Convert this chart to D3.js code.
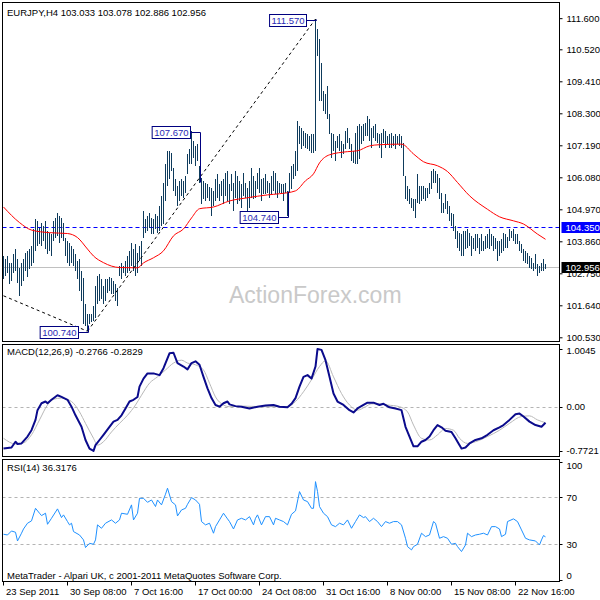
<!DOCTYPE html>
<html><head><meta charset="utf-8">
<script src="https://cdn.jsdelivr.net/npm/d3@7"></script>
<style>
body{margin:0;background:#fff}
svg{display:block}
text{font-family:"Liberation Sans",Arial,sans-serif;font-size:9.5px;fill:#000}
</style>
</head><body>
<svg id="c" width="600" height="600"></svg>
<script>
// ---------- DATA ----------
const symbolTitle = "EURJPY,H4  103.033 103.078 102.886 102.956";
const highs = [103.36,103.25,103.36,103.11,103.11,103.43,103.60,103.25,102.94,103.11,
103.25,103.46,103.53,103.60,103.70,104.29,104.64,104.57,104.33,104.50,
104.40,104.57,104.22,104.15,104.12,104.57,104.67,104.85,104.74,104.67,
104.50,103.98,103.88,103.81,103.70,103.60,103.43,103.18,103.25,102.84,
102.59,101.69,101.35,101.35,101.35,101.62,102.32,102.66,102.73,102.56,
102.32,102.56,102.56,102.63,102.59,102.49,102.38,102.24,103.01,103.11,
103.01,103.18,103.36,103.53,103.81,103.60,103.77,103.46,103.70,103.88,
104.92,104.64,104.74,104.85,104.67,104.64,104.81,104.74,105.09,105.44,
105.89,106.55,107.00,107.00,106.93,106.41,106.03,105.78,105.96,106.03,
105.96,106.13,106.89,107.07,107.67,107.34,107.17,107.24,106.48,106.06,
105.96,105.89,105.85,105.75,105.71,105.61,106.03,106.20,105.85,105.96,
106.03,106.24,106.30,105.85,106.20,105.89,106.30,106.13,105.96,105.85,
106.24,105.89,105.71,105.96,106.41,106.13,105.96,106.24,106.41,106.03,
106.06,106.20,105.96,105.89,106.13,106.30,106.24,105.96,105.89,105.85,
105.85,105.89,105.61,106.24,106.48,106.55,107.00,108.04,107.86,107.79,
107.69,107.62,107.59,107.52,107.59,107.59,111.57,111.23,110.88,110.05,
109.08,108.97,109.25,108.28,107.62,107.59,107.34,107.52,107.59,107.34,
107.24,107.69,107.79,107.45,107.24,107.00,107.62,107.86,107.93,107.86,
107.93,107.97,108.21,108.11,107.79,107.86,107.93,107.62,107.59,107.62,
107.76,107.69,107.52,107.59,107.62,107.52,107.59,107.52,107.59,107.52,
107.27,106.13,105.78,105.68,105.37,105.33,105.33,106.20,105.78,105.78,
105.78,105.71,105.71,105.89,106.30,106.37,106.30,106.20,106.06,105.54,
105.19,105.51,105.26,105.09,104.85,104.81,104.40,104.22,104.15,104.12,
104.22,104.22,104.29,104.15,104.05,103.98,104.12,104.12,103.98,104.12,
103.88,104.05,104.12,104.29,104.12,104.05,103.98,103.88,103.88,103.94,
104.15,104.12,104.01,104.29,104.22,104.29,104.12,104.12,103.88,103.77,
103.60,103.53,103.46,103.36,103.29,103.11,103.43,103.08,103.01,103.11,
103.25,103.08];
const lows = [102.56,102.66,102.77,102.38,102.49,102.77,102.84,102.42,101.97,102.32,
102.49,102.84,102.63,102.91,103.01,103.11,103.53,103.70,103.77,103.70,
103.88,103.60,103.43,103.53,103.36,103.88,103.98,104.05,103.81,103.98,
103.88,103.36,103.11,103.01,103.11,103.01,102.84,102.56,102.14,101.80,
101.00,100.93,100.74,101.00,101.07,101.10,101.21,101.69,101.80,101.87,
101.69,101.80,102.07,102.14,102.04,102.04,101.80,101.62,102.66,102.56,
102.77,102.66,102.77,102.84,103.01,102.84,102.66,102.77,103.18,103.01,
103.98,104.15,104.22,104.33,104.12,104.12,104.29,104.15,104.22,104.40,
104.47,105.26,105.78,106.03,106.30,105.61,105.44,105.09,105.26,105.44,
105.37,105.54,106.20,106.55,106.55,106.75,106.48,106.65,105.89,105.16,
105.33,105.26,105.37,105.26,104.74,105.09,105.26,105.37,105.26,105.44,
105.16,105.44,105.26,105.16,105.61,104.92,105.37,105.16,105.26,105.02,
105.44,105.37,104.92,105.02,105.37,105.33,105.37,105.68,105.54,105.26,
105.51,105.51,105.54,105.37,105.51,105.61,105.51,105.37,105.54,105.51,
105.26,105.54,104.74,105.54,105.68,106.03,106.13,106.30,107.24,107.07,
107.17,107.10,107.07,107.00,106.93,106.93,107.00,110.29,108.73,108.73,
108.38,108.28,108.11,107.59,106.75,107.00,106.65,107.10,107.00,106.75,
106.89,107.07,107.27,107.07,106.65,106.58,106.55,106.55,106.72,107.24,
107.34,107.52,107.52,107.34,107.10,107.45,107.34,107.27,107.10,106.75,
107.27,107.10,107.24,107.10,107.10,107.17,107.07,107.24,107.17,107.10,
106.13,105.33,105.26,105.16,105.02,104.92,104.67,105.19,105.16,105.26,
105.33,105.26,105.37,105.51,105.68,105.89,105.89,105.54,105.33,104.85,
104.85,104.99,104.81,104.57,104.40,104.22,103.94,103.63,103.53,103.36,
103.36,103.60,103.63,103.70,103.36,103.60,103.53,103.63,103.43,103.53,
103.53,103.60,103.63,103.60,103.70,103.53,103.60,103.18,103.36,103.46,
103.53,103.63,103.63,103.88,103.98,103.88,103.77,103.77,103.53,103.46,
103.18,103.11,103.08,102.94,102.91,102.84,102.91,102.66,102.77,102.84,
102.84,102.89];

const maIdx = [0,8,14,23,32,37,42,45,50,58,67,70,75,80,85,90,94,98,105,113,122,132,138,146,151,155,158,163,172,177,183,188,199,205,210,217,222,227,233,242,248,255,260,267,271];
const maVal = [105.05,104.51,104.25,104.16,104.13,103.99,103.59,103.35,103.12,102.95,102.94,103.11,103.29,103.53,104.05,104.29,104.67,104.99,105.05,105.26,105.37,105.47,105.51,105.61,105.96,106.20,106.58,106.86,106.97,107.00,107.17,107.21,107.23,106.89,106.62,106.48,106.28,105.90,105.44,104.97,104.71,104.57,104.46,104.11,103.93];

const macdIdx = [0,4,6,7,9,12,14,16,17,19,21,22,24,27,29,32,34,36,39,41,43,45,46,48,50,53,55,57,59,61,63,65,67,68,70,72,75,78,80,83,85,87,90,92,94,96,98,100,102,104,106,108,110,112,113,116,119,123,127,131,135,138,142,144,146,148,150,152,154,156,157,159,161,163,165,167,170,173,175,177,180,182,185,188,190,193,196,199,201,203,205,207,209,211,213,215,217,219,221,224,226,227,229,231,233,236,239,242,245,248,250,253,256,258,260,263,266,269,271];
const macdVal = [-0.73,-0.71,-0.61,-0.65,-0.64,-0.52,-0.41,-0.23,-0.06,0.06,0.09,0.06,0.12,0.20,0.17,0.12,0.00,-0.15,-0.35,-0.58,-0.73,-0.77,-0.67,-0.58,-0.49,-0.35,-0.26,-0.23,-0.15,-0.03,0.09,0.12,0.17,0.35,0.49,0.58,0.58,0.55,0.67,0.93,0.94,0.76,0.70,0.65,0.76,0.79,0.73,0.52,0.32,0.15,0.03,0.00,0.06,0.09,0.04,0.01,0.00,-0.03,0.00,0.02,0.03,0.00,-0.01,0.05,0.15,0.35,0.52,0.55,0.49,0.70,1.0045,0.99,0.81,0.52,0.23,0.09,0.03,-0.06,-0.10,-0.03,0.03,0.07,0.07,0.03,0.05,-0.01,-0.03,-0.06,-0.35,-0.52,-0.69,-0.69,-0.61,-0.58,-0.52,-0.41,-0.32,-0.36,-0.42,-0.44,-0.55,-0.61,-0.73,-0.71,-0.64,-0.58,-0.55,-0.49,-0.41,-0.36,-0.32,-0.23,-0.13,-0.12,-0.17,-0.26,-0.32,-0.35,-0.28];

const sigIdx = [0,6,10,14,18,22,25,29,34,38,41,45,47,50,54,58,62,66,69,73,77,81,85,89,92,96,100,103,106,110,113,120,130,142,146,150,154,158,161,165,169,173,177,181,184,188,192,198,202,205,209,213,217,221,225,228,232,236,242,248,253,259,263,267,271];
const sigVal = [-0.55,-0.65,-0.63,-0.49,-0.23,0.03,0.13,0.15,0.09,-0.09,-0.29,-0.55,-0.67,-0.61,-0.44,-0.29,-0.15,0.03,0.20,0.41,0.52,0.64,0.76,0.81,0.76,0.73,0.64,0.41,0.17,0.03,0.00,0.01,0.00,0.00,0.09,0.26,0.47,0.70,0.80,0.52,0.23,0.03,-0.06,0.00,0.05,0.05,0.03,0.00,-0.09,-0.32,-0.55,-0.58,-0.49,-0.38,-0.41,-0.55,-0.64,-0.61,-0.52,-0.41,-0.29,-0.17,-0.16,-0.23,-0.28];

const rsiIdx = [0,2,4,6,7,9,10,12,14,16,18,19,21,22,24,27,29,30,32,33,34,35,38,40,41,43,45,46,47,49,51,54,56,58,59,62,64,65,67,68,70,72,74,76,77,79,81,82,84,86,87,89,91,92,94,96,98,99,101,103,105,106,108,110,112,113,115,117,119,121,123,125,126,127,129,131,133,135,136,138,140,142,144,146,148,150,152,154,155,156,157,158,160,162,164,166,168,170,172,174,176,178,180,181,183,185,187,189,191,193,195,197,199,201,202,204,205,207,209,211,213,215,216,218,220,222,224,226,227,229,231,232,234,236,238,240,242,244,246,248,249,251,252,255,257,259,261,263,266,268,269,270,271];
const rsiVal = [38.5,37.9,41.3,40.2,32.8,39.4,43.0,47.9,49.9,60.6,56.4,54.4,56.4,47.0,52.1,60.1,52.7,55.0,49.3,46.5,47.9,40.8,37.9,33.7,27.2,30.8,30.0,33.7,46.5,43.6,47.9,50.7,47.9,50.7,56.4,55.5,63.5,50.7,56.4,69.1,69.1,65.7,67.7,62.1,67.7,63.5,72.6,77.7,66.3,63.5,54.1,59.2,60.6,64.0,69.7,67.7,64.0,49.3,46.5,47.9,39.4,45.0,50.7,56.4,51.6,49.3,43.0,50.7,52.1,50.7,53.5,46.5,52.1,55.0,46.5,53.5,53.5,46.5,52.1,50.7,49.3,46.5,55.5,58.4,74.8,67.7,66.3,60.6,60.6,83.3,75.0,62.1,56.4,53.5,46.5,45.0,47.9,46.5,50.7,43.6,49.3,55.0,52.7,53.5,49.3,52.1,49.3,45.0,49.3,47.9,49.3,49.3,46.5,35.1,28.0,25.2,28.0,30.0,39.4,36.5,37.9,49.3,47.9,35.1,36.5,35.1,30.0,30.8,28.0,23.8,29.4,39.4,36.5,37.9,38.5,39.4,37.9,45.0,45.0,43.0,36.5,38.5,49.3,51.6,49.3,42.2,35.1,33.7,32.8,29.4,33.7,37.4,36.3];

const priceTicks = [111.6,110.52,109.41,108.3,107.19,106.08,104.97,103.86,102.75,101.64,100.53];
const dateIdx = [0,32,64,96,128,160,192,224,256];
const dateLabels = ["23 Sep 2011","30 Sep 08:00","7 Oct 16:00","17 Oct 00:00","24 Oct 08:00","31 Oct 16:00","8 Nov 00:00","15 Nov 08:00","22 Nov 16:00"];
const macdTicks = [1.0045,0,-0.7721];
const macdTickLabels = ["1.0045","0.00","-0.7721"];
const rsiTicks = [100,70,30,0];
const rsiLevels = [70,30];
const resistanceLevel = 104.35;
const bidLevel = 102.956;
const pivotIdx = [42,98,142,156];
const pivotPrice = [100.74,107.67,104.74,111.57];
const pivotEnd = [100.95,105.90,105.60,111.57];
const pivotLabel = ["100.740","107.670","104.740","111.570"];
const trendFrom = [[0,101.97],[42,100.74]];
const trendTo = [[42,100.74],[156,111.57]];
const macdTitle = "MACD(12,26,9) -0.2766 -0.2829";
const rsiTitle = "RSI(14) 36.3176";
const copyright = "MetaTrader - Alpari UK, c 2001-2011 MetaQuotes Software Corp.";
const watermark = "ActionForex.com";

// ---------- LAYOUT ----------
const svg = d3.select("#c");
const L = 2.5, R = 559.5;
const panels = {main:[2.5,341.5], macd:[344.5,456.5], rsi:[459.5,581.5]};
const x = d3.scaleLinear().domain([0,271]).range([3.5,545.5]);
const yP = d3.scaleLinear().domain([100.402,112.126]).range([341,3]);
const yM = d3.scaleLinear().domain([-0.8676,1.0836]).range([456.5,344.5]);
const yR = d3.scaleLinear().domain([-1.70,102.13]).range([581.5,459.5]);

const defs = svg.append("defs");
Object.entries(panels).forEach(([k,[t,b]])=>{
  defs.append("clipPath").attr("id","clip-"+k).append("rect")
    .attr("x",L).attr("y",t).attr("width",R-L).attr("height",b-t);
});

// ---------- MAIN PANEL ----------
const gMain = svg.append("g").attr("clip-path","url(#clip-main)");
gMain.append("text").attr("x",229).attr("y",303).text(watermark)
  .style("font-size","23px").style("fill","#c9c9c9");
gMain.append("line").attr("x1",L).attr("x2",R)
  .attr("y1",Math.round(yP(bidLevel))+0.5).attr("y2",Math.round(yP(bidLevel))+0.5)
  .attr("stroke","#c0c0c0").attr("stroke-width",1);
gMain.append("line").attr("x1",L).attr("x2",R)
  .attr("y1",Math.round(yP(resistanceLevel))+0.5).attr("y2",Math.round(yP(resistanceLevel))+0.5)
  .attr("stroke","#0000ff").attr("stroke-width",1).attr("stroke-dasharray","4,3");

// bars
gMain.append("g").selectAll("line").data(highs).join("line")
  .attr("x1",(d,i)=>x(i)).attr("x2",(d,i)=>x(i))
  .attr("y1",d=>yP(d)).attr("y2",(d,i)=>yP(lows[i]))
  .attr("stroke","#0e3b5c").attr("stroke-width",1).attr("shape-rendering","crispEdges");

// moving average
const maLine = d3.line().x(d=>x(d[0])).y(d=>yP(d[1])).curve(d3.curveMonotoneX);
gMain.append("path").datum(maIdx.map((d,i)=>[d,maVal[i]]))
  .attr("d",maLine).attr("fill","none").attr("stroke","#ff0000").attr("stroke-width",1);

// trend lines
trendFrom.forEach((f,k)=>{
  gMain.append("line").attr("x1",x(f[0])).attr("y1",yP(f[1]))
    .attr("x2",x(trendTo[k][0])).attr("y2",yP(trendTo[k][1]))
    .attr("stroke","#000").attr("stroke-width",1).attr("stroke-dasharray","3,3");
});

// pivot labels
pivotIdx.forEach((pi,k)=>{
  const px = Math.round(x(pi))+0.5, py = Math.round(yP(pivotPrice[k]))+1.5;
  const t = gMain.append("text").attr("y",py+3.5).text(pivotLabel[k])
    .style("fill","#2a2ab4");
  const w = t.node().getComputedTextLength();
  const right = px - 10, left = right - w - 4;
  t.attr("x",left+2);
  gMain.insert("rect","text:last-child").attr("x",left).attr("y",py-6).attr("width",w+4).attr("height",12)
    .attr("fill","#fff").attr("stroke","#000080");
  gMain.append("path").attr("d",`M${right},${py}H${px}V${Math.round(yP(pivotEnd[k]))+0.5}`)
    .attr("fill","none").attr("stroke","#000080");
});
// redraw texts above boxes
gMain.selectAll("text").raise();

svg.append("text").attr("x",7).attr("y",16).text(symbolTitle);

// ---------- MACD PANEL ----------
const gM = svg.append("g").attr("clip-path","url(#clip-macd)");
gM.append("line").attr("x1",L).attr("x2",R).attr("y1",Math.round(yM(0))+0.5).attr("y2",Math.round(yM(0))+0.5)
  .attr("stroke","#b4b4b4").attr("stroke-dasharray","3,3");
const lM = d3.line().x(d=>x(d[0])).y(d=>yM(d[1]));
gM.append("path").datum(sigIdx.map((d,i)=>[d,sigVal[i]])).attr("d",lM.curve(d3.curveMonotoneX))
  .attr("fill","none").attr("stroke","#b8b8b8").attr("stroke-width",1);
gM.append("path").datum(macdIdx.map((d,i)=>[d,macdVal[i]])).attr("d",lM.curve(d3.curveLinear))
  .attr("fill","none").attr("stroke","#0b0b8c").attr("stroke-width",2).attr("stroke-linejoin","round");
svg.append("text").attr("x",7).attr("y",355).text(macdTitle);

// ---------- RSI PANEL ----------
const gR = svg.append("g").attr("clip-path","url(#clip-rsi)");
rsiLevels.forEach(v=>{
  gR.append("line").attr("x1",L).attr("x2",R).attr("y1",Math.round(yR(v))+0.5).attr("y2",Math.round(yR(v))+0.5)
    .attr("stroke","#b4b4b4").attr("stroke-dasharray","3,3");
});
gR.append("path").datum(rsiIdx.map((d,i)=>[d,rsiVal[i]]))
  .attr("d",d3.line().x(d=>x(d[0])).y(d=>yR(d[1])))
  .attr("fill","none").attr("stroke","#1e90ff").attr("stroke-width",1);
svg.append("text").attr("x",7).attr("y",471).text(rsiTitle);
svg.append("text").attr("x",7).attr("y",579).text(copyright);

// ---------- FRAMES ----------
Object.values(panels).forEach(([t,b])=>{
  svg.append("rect").attr("x",L).attr("y",t).attr("width",R-L).attr("height",b-t)
    .attr("fill","none").attr("stroke","#000").attr("stroke-width",1);
});

// ---------- AXES ----------
const axP = svg.append("g").attr("transform",`translate(${R},0)`)
  .call(d3.axisRight(yP).tickValues(priceTicks).tickFormat(d3.format(".3f")).tickSize(3).tickPadding(4));
axP.select(".domain").remove();
axP.selectAll("text").style("font-size","9.5px").style("font-family","Liberation Sans, Arial, sans-serif");

function sideLabel(v, y, txt, bg, fg){
  const g = svg.append("g");
  const t = g.append("text").attr("x",R+6).attr("y",y+3.5).text(txt).style("fill",fg);
  const w = t.node().getComputedTextLength();
  g.insert("rect","text").attr("x",R+2).attr("y",y-5.5).attr("width",600-R-2).attr("height",11).attr("fill",bg);
}
sideLabel(resistanceLevel, Math.round(yP(resistanceLevel))+0.5, resistanceLevel.toFixed(3), "#0000ff", "#fff");
sideLabel(bidLevel, Math.round(yP(bidLevel))+0.5, bidLevel.toFixed(3), "#000", "#fff");

function clampLabels(scale, vals, labels, top, bottom){
  vals.forEach((v,k)=>{
    const yy = scale(v);
    svg.append("line").attr("x1",R).attr("x2",R+3).attr("y1",Math.round(yy)+0.5).attr("y2",Math.round(yy)+0.5).attr("stroke","#000");
    const ty = Math.max(top+6, Math.min(bottom-6, yy));
    svg.append("text").attr("x",R+7).attr("y",ty+3.5).text(labels[k]);
  });
}
clampLabels(yM, macdTicks, macdTickLabels, panels.macd[0], panels.macd[1]);
clampLabels(yR, rsiTicks, rsiTicks.map(String), panels.rsi[0], panels.rsi[1]);

const axD = svg.append("g").attr("transform",`translate(0,${panels.rsi[1]})`)
  .call(d3.axisBottom(x).tickValues(dateIdx).tickFormat((d,i)=>dateLabels[i]).tickSize(4).tickPadding(3));
axD.select(".domain").remove();
axD.selectAll(".tick line").attr("transform","translate(-0.5,0)");
axD.selectAll("text").attr("text-anchor","start").attr("x",2)
  .style("font-size","9.5px").style("font-family","Liberation Sans, Arial, sans-serif");
</script>
</body></html>
